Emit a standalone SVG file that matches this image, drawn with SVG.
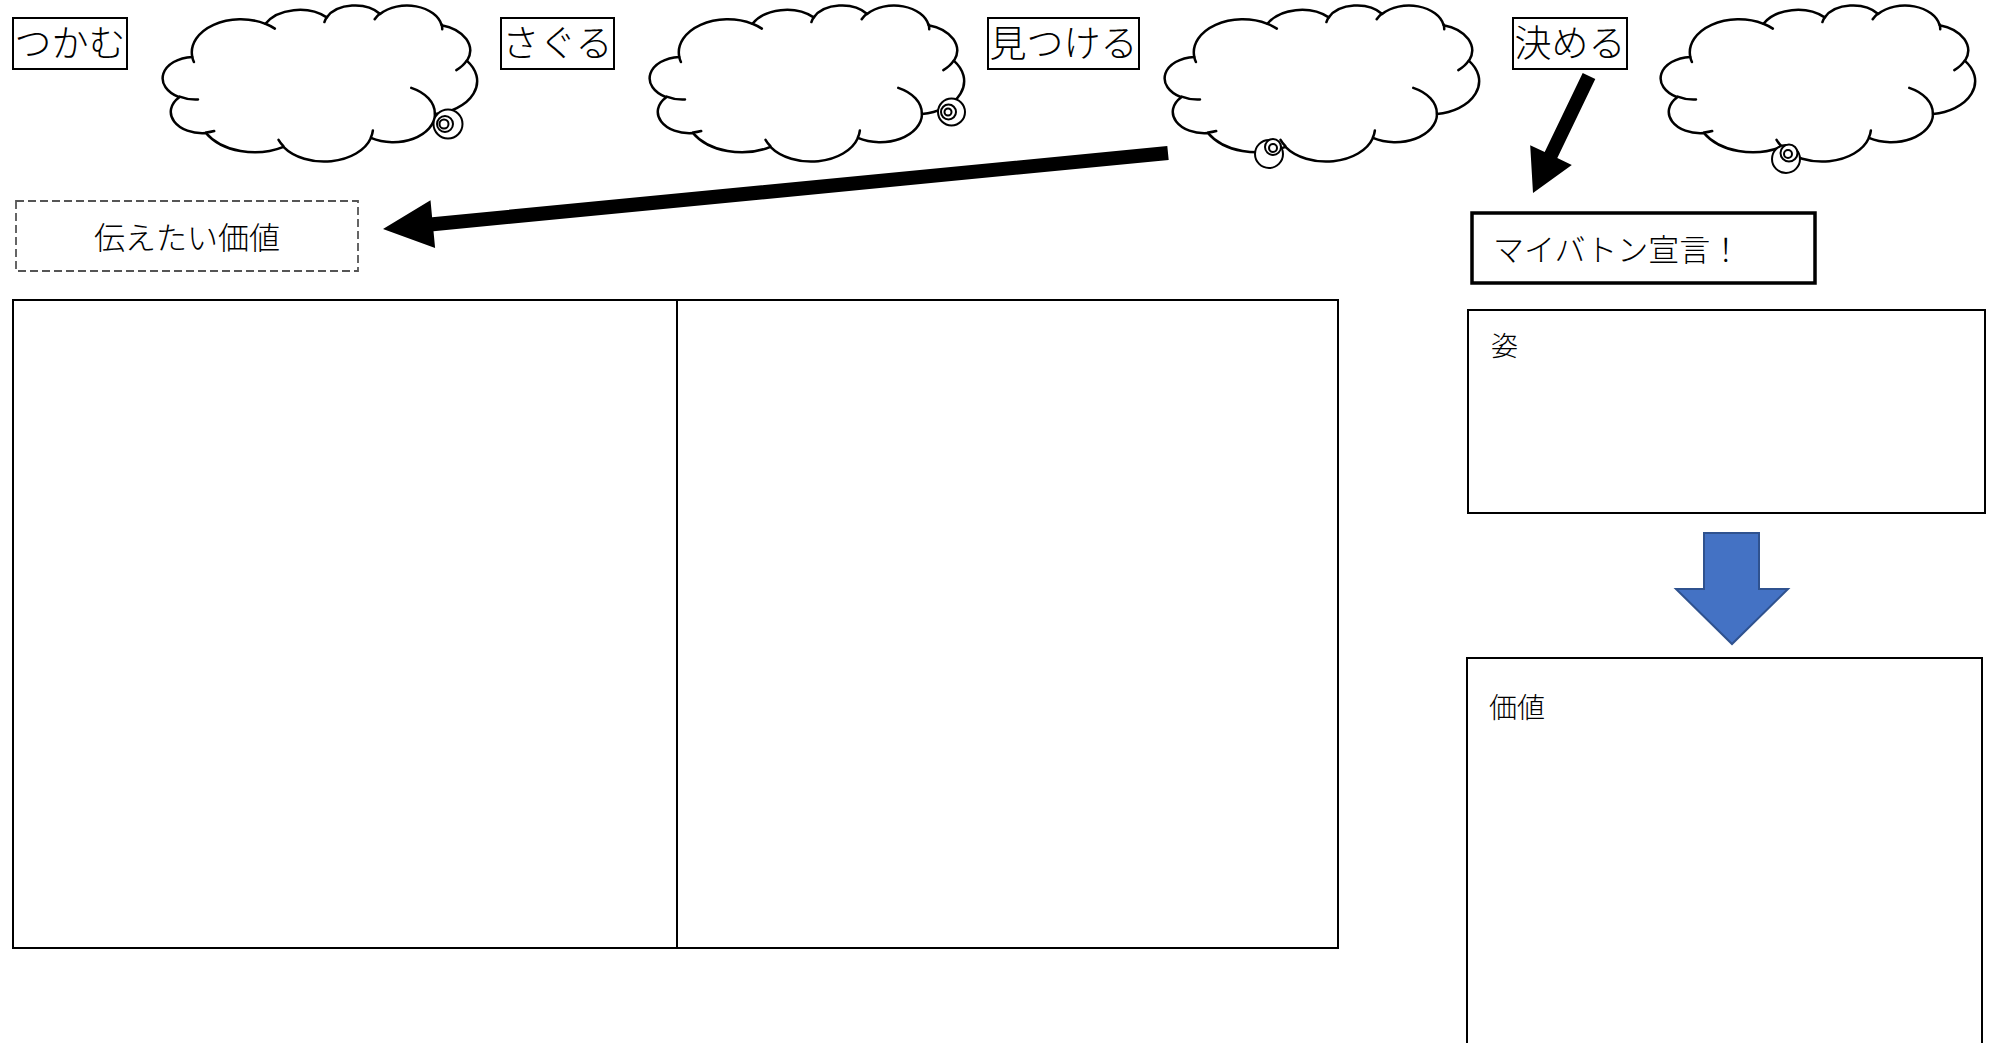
<svg xmlns="http://www.w3.org/2000/svg" xmlns:xlink="http://www.w3.org/1999/xlink" width="1995" height="1043" viewBox="0 0 1995 1043">
  <style>
    .label-box { fill: #ffffff; stroke: #000000; stroke-width: 2; }
    .label { font-family: "Noto Sans CJK JP", "Liberation Sans", sans-serif; font-size: 37px; font-weight: 300; fill: #000000; text-anchor: middle; }
    .cloud-outline { fill: #ffffff; stroke: #000000; stroke-width: 2.5; vector-effect: non-scaling-stroke; stroke-linejoin: round; }
    .cloud-detail { fill: none; stroke: #000000; stroke-width: 2.5; vector-effect: non-scaling-stroke; stroke-linecap: round; }
    .bubble { fill: #ffffff; stroke: #000000; stroke-width: 2; }
    .frame { fill: #ffffff; stroke: #000000; stroke-width: 2; }
    .body-text { font-family: "Noto Sans CJK JP", "Liberation Sans", sans-serif; font-weight: 300; fill: #000000; }
    .serif-text { font-family: "Liberation Serif", "Noto Sans CJK JP", serif; font-weight: 300; fill: #000000; }
  </style>
  <defs>
    <!-- cloud outline in a 43200 x 43200 unit box -->
    <g id="cloud-shape">
      <path class="cloud-outline" d="M3900,14370 A6753,9190 0 0 1 14006,5203 A5333,7267 0 0 1 22457,3433 A4365,5945 0 0 1 29835,2483 A4857,6595 0 0 1 38319,5579 A5333,7273 0 0 1 41819,15462 A6775,9220 0 0 1 37404,30204 A5785,7867 0 0 1 28555,36814 A6752,9215 0 0 1 16481,39267 A7720,10543 0 0 1 5804,35471 A4360,5918 0 0 1 2113,25549 A4345,5945 0 0 1 3900,14370 Z"/>
      <path class="cloud-detail" d="M4693,26177 A4345,5945 0 0 1 2160,25380 M6928,34899 A4360,5918 0 0 1 5819,35281 M16478,39090 A6752,9215 0 0 1 15809,37347 M28827,34751 A6752,9215 0 0 1 28560,36660 M34129,22954 A5785,7867 0 0 1 37381,30090 M41798,15354 A5333,7273 0 0 1 40350,18031 M38324,5426 A4857,6595 0 0 1 38400,6690 M29078,3952 A4857,6595 0 0 1 29820,2340 M22141,4720 A4365,5945 0 0 1 22500,3330 M14000,5192 A6753,9190 0 0 1 15299,6540 M4127,15789 A6753,9190 0 0 1 3900,14371"/>
    </g>
  </defs>

  <!-- step labels -->
  <g id="label-tsukamu">
    <rect class="label-box" x="13" y="18" width="114" height="51"/>
    <text class="label" x="70" y="57">つかむ</text>
  </g>
  <g id="label-saguru">
    <rect class="label-box" x="501" y="18" width="113" height="51"/>
    <text class="label" x="557.5" y="57">さぐる</text>
  </g>
  <g id="label-mitsukeru">
    <rect class="label-box" x="988" y="18" width="151" height="51"/>
    <text class="label" x="1063.5" y="57">見つける</text>
  </g>
  <g id="label-kimeru">
    <rect class="label-box" x="1513" y="18" width="114" height="51"/>
    <text class="label" x="1570" y="57">決める</text>
  </g>

  <!-- thought clouds -->
  <g id="cloud-1">
    <use xlink:href="#cloud-shape" href="#cloud-shape" transform="translate(164,5) scale(0.0072454,0.0036111)"/>
    <circle class="bubble" cx="448" cy="124" r="14.5"/>
    <circle class="bubble" cx="445" cy="124" r="8"/>
    <circle class="bubble" cx="444" cy="124" r="4.5"/>
  </g>
  <g id="cloud-2">
    <use xlink:href="#cloud-shape" href="#cloud-shape" transform="translate(651,5) scale(0.0072454,0.0036111)"/>
    <circle class="bubble" cx="951.5" cy="112" r="13.5"/>
    <circle class="bubble" cx="948.5" cy="112" r="7.5"/>
    <circle class="bubble" cx="948" cy="112" r="3.5"/>
  </g>
  <g id="cloud-3">
    <use xlink:href="#cloud-shape" href="#cloud-shape" transform="translate(1166,5) scale(0.0072454,0.0036111)"/>
    <circle class="bubble" cx="1269" cy="154" r="14"/>
    <circle class="bubble" cx="1273" cy="147" r="8"/>
    <circle class="bubble" cx="1273" cy="148" r="4"/>
  </g>
  <g id="cloud-4">
    <use xlink:href="#cloud-shape" href="#cloud-shape" transform="translate(1662,5) scale(0.0072454,0.0036111)"/>
    <circle class="bubble" cx="1786" cy="159" r="14"/>
    <circle class="bubble" cx="1789" cy="153" r="8.5"/>
    <circle class="bubble" cx="1788" cy="154" r="4"/>
  </g>

  <!-- value to convey -->
  <g id="value-to-convey">
    <rect x="16" y="201" width="342" height="70" fill="#ffffff" stroke="#555555" stroke-width="1.8" stroke-dasharray="8 4"/>
    <text class="body-text" x="187" y="249" font-size="31" text-anchor="middle">伝えたい価値</text>
  </g>

  <!-- two-column worksheet -->
  <g id="worksheet">
    <rect class="frame" x="13" y="300" width="1325" height="648"/>
    <line x1="677" y1="300" x2="677" y2="948" stroke="#000000" stroke-width="2"/>
  </g>

  <!-- declaration -->
  <g id="my-baton">
    <rect x="1472" y="213" width="343" height="70" fill="#ffffff" stroke="#000000" stroke-width="3.5"/>
    <text class="body-text" x="1493" y="261" font-size="31">マイバトン宣言！</text>
  </g>
  <g id="figure-box">
    <rect class="frame" x="1468" y="310" width="517" height="203"/>
    <text class="serif-text" x="1491" y="356" font-size="27">姿</text>
  </g>
  <g id="value-box">
    <rect class="frame" x="1467" y="658" width="515" height="400" stroke-width="2.5"/>
    <text class="serif-text" x="1489" y="718" font-size="28">価値</text>
  </g>

  <!-- connectors -->
  <g id="connectors">
    <polygon points="1167.3,146 432.1,217.2 430.5,200.3 383,229 435.1,248.1 433.5,231.2 1168.7,160" fill="#000000"/>
    <polygon points="1582.7,73 1544.7,152.1 1530.2,145.3 1533,193 1571.8,164.9 1557.3,158.1 1595.3,79" fill="#000000"/>
    <polygon points="1704,533 1759,533 1759,589 1788,589 1732,644 1676,589 1704,589" fill="#4472C4" stroke="#2F528F" stroke-width="2" stroke-linejoin="miter"/>
  </g>
</svg>
